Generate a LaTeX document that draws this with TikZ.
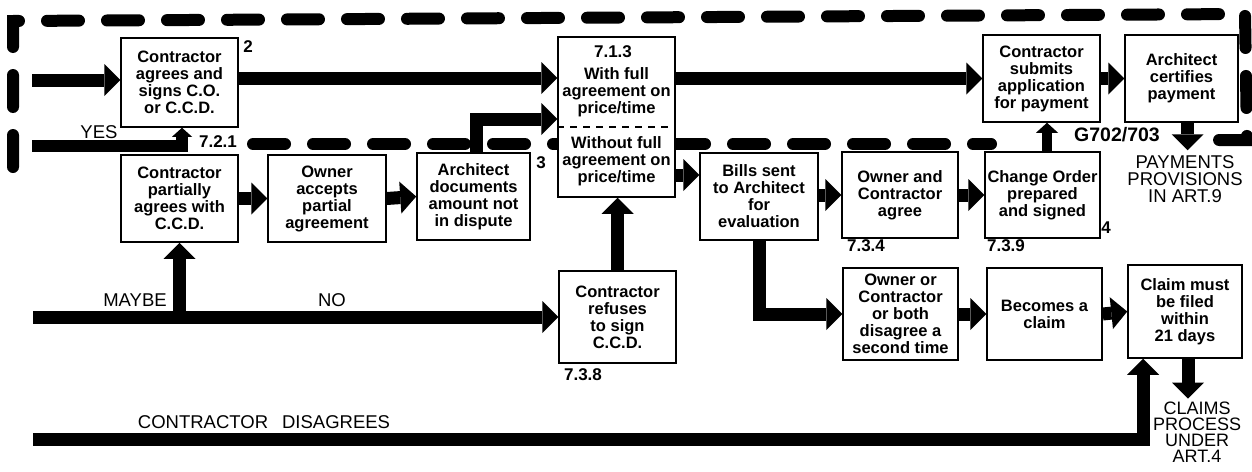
\documentclass[tikz,border=0pt]{standalone}
\usepackage{fontspec}
\setmainfont{Liberation Sans}
\usetikzlibrary{arrows.meta,calc}
\begin{document}
\begin{tikzpicture}[x=1pt,y=-1pt,
  box/.style={draw, line width=1.5pt, fill=white, align=center, inner sep=0pt,
    font=\fontsize{16.5}{17}\selectfont\bfseries},
  txt/.style={align=center, inner sep=0pt, font=\fontsize{16.5}{17}\selectfont\bfseries},
  lab/.style={inner sep=0pt, font=\fontsize{17}{17}\selectfont\bfseries},
  capt/.style={inner sep=0pt, align=center, font=\fontsize{18.5}{17}\selectfont},
  capc/.style={inner sep=0pt, align=center, font=\fontsize{18}{16}\selectfont},
  arr/.style={line width=13pt, line join=miter,
    -{Triangle[width=32pt,length=16pt,line width=0pt]}},
  arrs/.style={line width=10pt, line join=miter,
    -{Triangle[width=22pt,length=10pt,line width=0pt]}},
  yesarr/.style={line width=12pt, line join=miter,
    -{Triangle[width=20pt,length=9pt,line width=0pt]}},
  frame/.style={line width=12pt, line cap=round, dash pattern=on 32pt off 28pt},
]
\useasboundingbox (0,0) rectangle (1252,471);
\fill[white] (0,0) rectangle (1252,471);

% dashed boundary
\draw[frame] (13,167) -- (13,21) -- (1245,14) -- (1247,140) -- (1214,140);
\draw[frame] (253,144) -- (991,144);

% boxes
\node[box, minimum width=117pt, minimum height=89pt] (b1) at (179.5,82.5) {Contractor\\agrees and\\signs C.O.\\or C.C.D.};
\node[box, minimum width=117pt, minimum height=160pt] (b713) at (616.5,117) {};
\node[box, minimum width=117pt, minimum height=87pt] (bsub) at (1041.5,78.5) {Contractor\\submits\\application\\for payment};
\node[box, minimum width=113pt, minimum height=87pt] (bcert) at (1181.5,78.5) {Architect\\certifies\\payment};
\node[box, minimum width=117pt, minimum height=87pt] (bpart) at (179.5,198.5) {Contractor\\partially\\agrees with\\C.C.D.};
\node[box, minimum width=118pt, minimum height=87pt] (bowner) at (327,198.5) {Owner\\accepts\\partial\\agreement};
\node[box, minimum width=113pt, minimum height=87pt] (barch) at (473.5,196.5) {Architect\\documents\\amount not\\in dispute};
\node[box, minimum width=118pt, minimum height=87pt] (bbills) at (759,196.5) {Bills sent\\to Architect\\for\\evaluation};
\node[box, minimum width=116pt, minimum height=86pt] (boc) at (900,195) {Owner and\\Contractor\\agree};
\node[box, minimum width=115pt, minimum height=86pt] (bco) at (1042.5,195) {Change Order\\prepared\\and signed};
\node[box, minimum width=117pt, minimum height=92pt] (bref) at (617.5,317) {Contractor\\refuses\\to sign\\C.C.D.};
\node[box, minimum width=115pt, minimum height=92pt] (bdis) at (900.5,314) {Owner or\\Contractor\\or both\\disagree a\\second time};
\node[box, minimum width=115pt, minimum height=92pt] (bclaim) at (1044.5,314) {Becomes a\\claim};
\node[box, minimum width=114pt, minimum height=93pt] (bfile) at (1185,311.5) {Claim must\\be filed\\within\\21 days};

% contents of the split box
\node[lab] (n713) at (613,52) {7.1.3};
\node[txt] (wf) at (616.5,92) {With full\\agreement on\\price/time};
\node[txt] (wof) at (616.5,161) {Without full\\agreement on\\price/time};
\coordinate (div) at (616.5,127);
\draw[line width=1.5pt, dash pattern=on 7pt off 6pt] (div -| b713.west) -- (div -| b713.east);

% reference labels
\node[lab] (l2) at (248,47) {2};
\node[lab] (l721) at (218,142) {7.2.1};
\node[lab] (l3) at (541,163) {3};
\node[lab, font=\fontsize{19.5}{19}\selectfont\bfseries] (lg) at (1117,135) {G702/703};
\node[lab] (l4) at (1106,228) {4};
\node[lab] (l734) at (866,246) {7.3.4};
\node[lab] (l739) at (1006,246) {7.3.9};
\node[lab] (l738) at (583,375) {7.3.8};

% captions
\node[capt] (tyes) at (99,132) {YES};
\node[capt] (tmaybe) at (135,300) {MAYBE};
\node[capt] (tno) at (332,300) {NO};
\node[capt] (tdis) at (264,422) {CONTRACTOR\hspace{14pt}DISAGREES};
\node[capt] (pay) at (1185,179) {PAYMENTS\\PROVISIONS\\IN ART.9};
\node[capc] (claims) at (1197,432) {CLAIMS\\PROCESS\\UNDER\\ART.4};

% free ends and helper points
\coordinate (in1) at (32,80);
\coordinate (yes) at (32,146);
\coordinate (maybe) at (33,317);
\coordinate (dis) at (33,439);
\coordinate (t1) at ([yshift=4.5pt]b1.east);
\coordinate (bt) at ([yshift=21.5pt]bbills.west);
\coordinate (pa) at ([xshift=6pt]bcert.south);
\coordinate (ca) at ([xshift=3pt]bfile.south);
\coordinate (cu) at ([xshift=4.5pt]bco.north);
\coordinate (ya) at ([xshift=2.5pt]b1.south);
\coordinate (da) at ([xshift=-42pt]bfile.south);
\coordinate (aa) at ([xshift=2.5pt]barch.north);
\coordinate (ab) at ([yshift=-2pt]b713.west);

% connectors
\draw[arr] (in1) -- (in1 -| b1.west);
\draw[arr] (t1) -- (t1 -| b713.west);
\draw[arr] (bsub.west -| b713.east) -- (bsub.west);
\draw[arr] (bsub.east) -- (bcert.west);
\draw[arr] (pa) -- ([yshift=5pt]pa |- pay.north);
\draw[yesarr] (yes) -| (ya);
\draw[arr] (bpart.east) -- (bowner.west);
\draw[arr] (bowner.east) -- (barch.west);
\draw[arr] (aa) |- (ab);
\draw[arr] (bt -| b713.east) -- (bt);
\draw[arr] (boc.west -| bbills.east) -- (boc.west);
\draw[arr] (boc.east) -- (bco.west);
\draw[arrs] (cu) -- (cu |- bsub.south);
\draw[arr] (bbills.south) |- (bdis.west);
\draw[arr] (bdis.east) -- (bclaim.west);
\draw[arr] (bclaim.east) -- (bfile.west);
\draw[arr] (ca) -- ([yshift=3pt]ca |- claims.north);
\draw[arr] (maybe) -- (bref.west);
\draw[arr] (bpart.south |- bref.west) -- (bpart.south);
\draw[arr] (bref.north) -- (bref.north |- b713.south);
\draw[arr] (dis) -| (da);
\end{tikzpicture}
\end{document}
